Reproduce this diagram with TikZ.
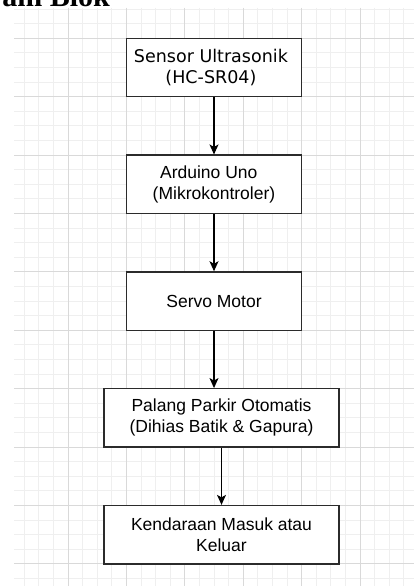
\documentclass[tikz,border=0pt]{standalone}
\usepackage{fontspec}
\setmainfont{Liberation Sans}
\newfontfamily\dejavuf{DejaVu Sans}
\newfontfamily\timesf{Liberation Serif}
\usetikzlibrary{arrows.meta}
\definecolor{minorgrid}{HTML}{EFEFEF}
\definecolor{majorgrid}{HTML}{D9D9D9}
\definecolor{boxline}{HTML}{2B2B2B}
\begin{document}
\begin{tikzpicture}[x=1pt,y=-1pt,
  blk/.style={draw=boxline, line width=1.3pt, fill=white, minimum width=175.2pt,
    minimum height=58.4pt, align=center, inner sep=0pt,
    font=\fontsize{17.5}{21}\selectfont},
  wideblk/.style={blk, minimum width=235pt},
  arr/.style={draw=black, line width=1.1pt, -{Stealth[length=10pt,width=9pt,inset=2.5pt]}},
  mingrid/.style={draw=minorgrid, line width=0.9pt},
  majgrid/.style={draw=majorgrid, line width=0.9pt}]
\useasboundingbox (0,0) rectangle (414,586);
\begin{scope}
\clip (0,0) rectangle (414,586);
\fill[white] (0,0) rectangle (414,586);
% grid
\begin{scope}
\clip (14,8) rectangle (414,586);
\foreach \k in {0,...,28} {
  \pgfmathsetmacro\xx{9.6+\k*14.6}
  \draw[mingrid] (\xx,8) -- (\xx,586);
}
\foreach \k in {-3,...,38} {
  \pgfmathsetmacro\yy{38.3+\k*14.6}
  \draw[mingrid] (14,\yy) -- (414,\yy);
}
\foreach \k in {0,...,7} {
  \pgfmathsetmacro\xx{9.6+\k*58.4}
  \draw[majgrid] (\xx,8) -- (\xx,586);
}
\foreach \k in {-1,...,10} {
  \pgfmathsetmacro\yy{38.3+\k*58.4}
  \draw[majgrid] (14,\yy) -- (414,\yy);
}
\end{scope}
% title (cut off at the top)
\node[anchor=base east, inner sep=0pt, font=\timesf\bfseries\fontsize{30}{36}\selectfont] (title) at (110,7) {Diagram Blok};
% boxes
\node[blk, font=\dejavuf\fontsize{17.5}{21}\selectfont] (b1) at (214,67.5) {Sensor Ultrasonik\hspace*{0.35em}\\(HC-SR04)\hspace*{0.35em}};
\node[blk] (b2) at (214,184.3) {Arduino Uno\hspace*{0.6em}\\(Mikrokontroler)};
\node[blk] (b3) at (214,301.1) {Servo Motor};
\node[wideblk] (b4) at (221.5,417.9) {Palang Parkir Otomatis\\(Dihias Batik \& Gapura)};
\node[wideblk] (b5) at (221.5,534.7) {Kendaraan Masuk atau\\Keluar};
% connectors
\draw[arr] (b1) -- (b2);
\draw[arr] (b2) -- (b3);
\draw[arr] (b3.south) -- (b3.south |- b4.north);
\draw[arr] (b4) -- (b5);
\end{scope}
\end{tikzpicture}
\end{document}
